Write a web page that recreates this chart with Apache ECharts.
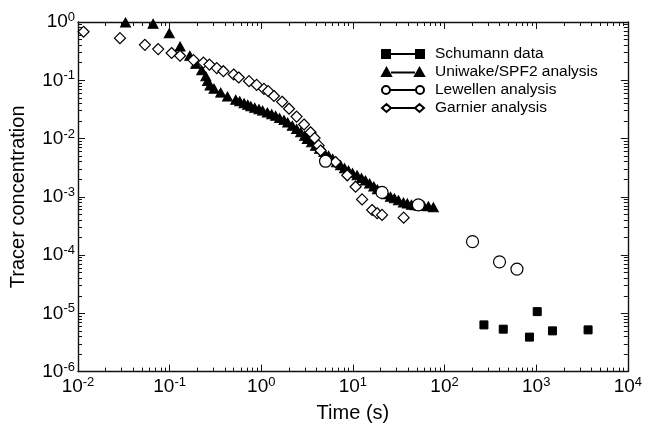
<!DOCTYPE html>
<html>
<head>
<meta charset="utf-8">
<script src="https://cdn.jsdelivr.net/npm/echarts@6/dist/echarts.min.js"></script>
<style>
html,body{margin:0;padding:0;background:#fff;}
#chart{width:645px;height:428px;}
</style>
</head>
<body>
<div id="chart"></div>
<script>
// ---- data ----
const schumannT = [269, 437, 845, 1026, 1506, 3685];
const schumannC = [6.33e-6, 5.35e-6, 3.91e-6, 1.07e-5, 5.0e-6, 5.2e-6];

const uniwakeT = [0.033, 0.066, 0.099, 0.13, 0.166, 0.193, 0.224, 0.248, 0.259, 0.276, 0.305, 0.361, 0.428,
  0.526, 0.582, 0.649, 0.711, 0.768, 0.847, 0.944, 1.035, 1.165, 1.30, 1.435, 1.585, 1.77, 1.94, 2.18, 2.43,
  2.69, 2.97, 3.18, 3.54, 3.91, 4.33, 4.82, 5.42, 6.0, 6.63, 7.33, 8.10, 8.96, 9.91, 11.1, 12.4, 13.7, 15.2,
  16.9, 18.5, 21.0, 23.2, 25.7, 28.4, 31.4, 35.6, 39.3, 43.5, 48.1, 53.1, 59.2, 66.6, 75.5];
const uniwakeC = [0.98, 0.93, 0.64, 0.38, 0.264, 0.191, 0.149, 0.117, 0.0966, 0.0816, 0.0717, 0.0613, 0.0524,
  0.0462, 0.0436, 0.0403, 0.038, 0.0358, 0.0338, 0.0319, 0.0301, 0.028, 0.0262, 0.0245, 0.0224, 0.0207, 0.0188, 0.0166, 0.0146,
  0.0128, 0.0111, 0.00985, 0.0086, 0.0075, 0.00665, 0.00585, 0.00506, 0.0045, 0.00392, 0.00346, 0.0031, 0.00281, 0.00255, 0.00234, 0.0021, 0.0019, 0.00169,
  0.0015, 0.00134, 0.00121, 0.0011, 0.001, 0.00094, 0.00087, 0.0008, 0.00077, 0.00073, 0.000714, 0.0007, 0.0007, 0.000687, 0.00066];

const lewellenT = [5.03, 20.8, 51.8, 202, 398, 617];
const lewellenC = [0.00408, 0.00119, 0.000728, 0.00017, 7.66e-5, 5.75e-5];

const garnierT = [0.0115, 0.0287, 0.0537, 0.075, 0.105, 0.130, 0.182, 0.234, 0.272, 0.327, 0.386, 0.5, 0.568,
  0.735, 0.891, 1.07, 1.19, 1.375, 1.69, 2.01, 2.43, 2.93, 3.45, 3.82, 4.22, 4.44, 6.46, 8.67, 10.7, 12.6,
  16.2, 18.4, 20.8, 35.8];
const garnierC = [0.68, 0.528, 0.406, 0.343, 0.294, 0.264, 0.222, 0.201, 0.186, 0.162, 0.143, 0.1255, 0.1115,
  0.0966, 0.0832, 0.0711, 0.0653, 0.0537, 0.0428, 0.0325, 0.0238, 0.0174, 0.0128, 0.0102, 0.00763, 0.00622, 0.00395, 0.00234, 0.00149, 0.000903,
  0.000594, 0.000522, 0.000489, 0.000438];

const seriesNames = ['Schumann data', 'Uniwake/SPF2 analysis', 'Lewellen analysis', 'Garnier analysis'];

// tick labels (exponents of 10)
const xTickExps = [-2, -1, 0, 1, 2, 3, 4];
const yTickExps = [-6, -5, -4, -3, -2, -1, 0];

// ---- build ----
const zip = (a, b) => a.map((v, i) => [v, b[i]]);
const majorX = xTickExps.map(e => Math.pow(10, e));
const majorY = yTickExps.map(e => Math.pow(10, e));
function minorOf(exps) {
  const out = [];
  for (let i = 0; i < exps.length - 1; i++) {
    for (let k = 2; k <= 9; k++) out.push(k * Math.pow(10, exps[i]));
  }
  return out;
}
const minorX = minorOf(xTickExps);
const minorY = minorOf(yTickExps);

const FONT = '"Liberation Sans", Arial, Helvetica, sans-serif';
const lbl = v => {
  const e = Math.round(Math.log10(v));
  return '{b|10}{s|' + e + '}';
};
const rich = {
  b: {fontSize: 19, fontFamily: FONT, color: '#000', lineHeight: 21},
  s: {fontSize: 13, fontFamily: FONT, color: '#000', padding: [0, 0, 9, 0], lineHeight: 21}
};
const axisLineStyle = {color: '#111', width: 1.4};

function xAx(pos, major, extra) {
  return Object.assign({
    type: 'log', logBase: 10, min: 0.01, max: 10000, interval: 1, position: pos,
    axisLine: {show: major, onZero: false, lineStyle: axisLineStyle},
    axisTick: {show: true, inside: true, length: major ? 7 : 4, lineStyle: {color: '#111', width: 1},
               customValues: major ? majorX : minorX},
    axisLabel: {show: false},
    splitLine: {show: false}, minorTick: {show: false}
  }, extra || {});
}
function yAx(pos, major, extra) {
  return Object.assign({
    type: 'log', logBase: 10, min: 1e-6, max: 1, interval: 1, position: pos,
    axisLine: {show: major, onZero: false, lineStyle: axisLineStyle},
    axisTick: {show: true, inside: true, length: major ? 7 : 4, lineStyle: {color: '#111', width: 1},
               customValues: major ? majorY : minorY},
    axisLabel: {show: false},
    splitLine: {show: false}, minorTick: {show: false}
  }, extra || {});
}

const chart = echarts.init(document.getElementById('chart'), null, {renderer: 'canvas'});

const iconSquare = 'path://M0,0 L8,0 L8,8 L0,8 Z M8,4 L34,4 M34,0 L42,0 L42,8 L34,8 Z';
const iconTri = 'path://M0,8 L4.5,0 L9,8 Z M9,4.5 L33,4.5 M33,8 L37.5,0 L42,8 Z';
const iconCirc = 'path://M0,4 A4,4,0,1,1,8,4 A4,4,0,1,1,0,4 Z M8,4 L34,4 M34,4 A4,4,0,1,1,42,4 A4,4,0,1,1,34,4 Z';
const iconDia = 'path://M0,4 L4.5,0 L9,4 L4.5,8 Z M9,4 L33,4 M33,4 L37.5,0 L42,4 L37.5,8 Z';

chart.setOption({
  backgroundColor: '#fff',
  animation: false,
  textStyle: {fontFamily: FONT},
  grid: {left: 78, right: 17, top: 22, bottom: 53, containLabel: false},
  legend: {
    orient: 'vertical', left: 381, top: 46, padding: 0, itemGap: 2,
    itemWidth: 42, itemHeight: 8,
    textStyle: {fontSize: 15.5, color: '#000', fontFamily: FONT, padding: [0, 0, 0, 6]},
    data: [
      {name: seriesNames[0], icon: iconSquare},
      {name: seriesNames[1], icon: iconTri},
      {name: seriesNames[2], icon: iconCirc},
      {name: seriesNames[3], icon: iconDia}
    ]
  },
  xAxis: [
    xAx('bottom', true, {
      name: 'Time (s)', nameLocation: 'middle', nameGap: 31,
      nameTextStyle: {fontSize: 20, color: '#000', fontFamily: FONT},
      axisLabel: {show: true, margin: 5, formatter: lbl, rich: rich, customValues: majorX}
    }),
    xAx('bottom', false),
    xAx('top', true),
    xAx('top', false)
  ],
  yAxis: [
    yAx('left', true, {
      name: 'Tracer concentration', nameLocation: 'middle', nameGap: 50,
      nameTextStyle: {fontSize: 20, color: '#000', fontFamily: FONT},
      axisLabel: {show: true, margin: 3, formatter: lbl, rich: rich, customValues: majorY}
    }),
    yAx('left', false),
    yAx('right', true),
    yAx('right', false)
  ],
  series: [
    {name: seriesNames[0], type: 'scatter', symbol: 'rect', symbolSize: 8, clip: false, z: 2,
     itemStyle: {color: '#000', borderColor: '#000', borderWidth: 1, opacity: 1},
     data: zip(schumannT, schumannC)},
    {name: seriesNames[1], type: 'scatter', symbol: 'triangle', symbolSize: [10, 9], clip: false, z: 2,
     itemStyle: {color: '#000', borderColor: '#000', borderWidth: 1, opacity: 1},
     data: zip(uniwakeT, uniwakeC)},
    {name: seriesNames[2], type: 'scatter', symbol: 'circle', symbolSize: 12, clip: false, z: 4,
     itemStyle: {color: '#fff', borderColor: '#000', borderWidth: 1.2, opacity: 1},
     data: zip(lewellenT, lewellenC)},
    {name: seriesNames[3], type: 'scatter', symbol: 'diamond', symbolSize: 11, clip: false, z: 3,
     itemStyle: {color: '#fff', borderColor: '#000', borderWidth: 1.2, opacity: 1},
     data: zip(garnierT, garnierC)}
  ]
});
</script>
</body>
</html>
